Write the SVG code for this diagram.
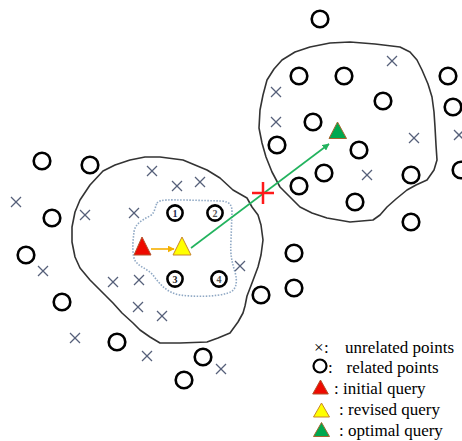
<svg xmlns="http://www.w3.org/2000/svg" width="462" height="441" viewBox="0 0 462 441">
<defs>
<style>
.bd{fill:none;stroke:#333;stroke-width:1.6;stroke-linejoin:round}
.dot{fill:none;stroke:#8fa8c4;stroke-width:1.6;stroke-dasharray:1.5 1.5}
.c{fill:none;stroke:#000;stroke-width:2.6}
.x{stroke:#56607a;stroke-width:1.3}
.t{font-family:"Liberation Serif","Times New Roman",serif;font-size:17px;fill:#000}
.n{font-family:"Liberation Serif","Times New Roman",serif;font-size:10px;font-weight:bold;text-anchor:middle}
</style>
<marker id="ag" viewBox="0 0 10 10" refX="9" refY="5" markerWidth="7" markerHeight="7" orient="auto" markerUnits="userSpaceOnUse"><path d="M0,0 L10,5 L0,10 Z" fill="#22b35e"/></marker>
<marker id="ao" viewBox="0 0 10 10" refX="9" refY="5" markerWidth="7" markerHeight="7" orient="auto" markerUnits="userSpaceOnUse"><path d="M0,0 L10,5 L0,10 Z" fill="#f5b000"/></marker>
<g id="xm"><line class="x" x1="-5" y1="-5" x2="5" y2="5"/><line class="x" x1="-5" y1="5" x2="5" y2="-5"/></g>
</defs>
<rect width="462" height="441" fill="#fff"/>

<g id="regions">
<path id="region-left" class="bd" d="M103,171 L115,165 L130,160 L145,157 L160,157 L183,160 L207,170 L220,178 L233,190 L247,198 L252,207 L258,215 L261,225 L263,240 L261,255 L258,267 L252,283 L247,296 L245,306 L243,313 L238,322 L230,333 L218,338 L207,342 L180,343 L160,343 L150,337 L140,330 L133,323 L122,313 L113,303 L100,290 L90,280 L80,268 L75,257 L72,242 L72,227 L75,212 L80,200 L90,185 Z"/>
<path id="region-right" class="bd" d="M310,47 L330,43 L350,42 L375,44 L400,47 L410,52 L417,60 L422,70 L428,84 L432,97 L434,112 L435,127 L436,145 L437,160 L434,170 L427,180 L416,185 L407,190 L396,199 L387,207 L380,215 L373,220 L350,222 L327,218 L312,213 L300,207 L290,197 L280,187 L272,172 L266,157 L262,143 L259,128 L260,110 L263,95 L267,80 L274,69 L282,60 L295,52 Z"/>
<path id="region-inner" class="dot" d="M157,203 C160,199 170,200 185,200 L222,201 C230,202 232,205 232,212 L231,240 C230,255 232,262 235,272 C238,283 236,291 228,293 C215,297 195,297 180,295 C168,293 160,285 153,275 C147,268 136,266 134,258 C132,250 133,240 134,232 C135,224 142,220 150,216 C155,213 155,207 157,203 Z"/>
</g>

<g id="unrelated">
<use href="#xm" x="16" y="202"/><use href="#xm" x="85" y="215"/><use href="#xm" x="134" y="213"/>
<use href="#xm" x="152" y="171"/><use href="#xm" x="177" y="186"/><use href="#xm" x="200" y="182"/>
<use href="#xm" x="43" y="271"/><use href="#xm" x="113" y="282"/><use href="#xm" x="139" y="280"/>
<use href="#xm" x="138" y="307"/><use href="#xm" x="162" y="316"/><use href="#xm" x="75" y="338"/>
<use href="#xm" x="147" y="356"/><use href="#xm" x="221" y="369"/><use href="#xm" x="240" y="266"/>
<use href="#xm" x="392" y="61"/><use href="#xm" x="276" y="92"/><use href="#xm" x="276" y="122"/>
<use href="#xm" x="414" y="138"/><use href="#xm" x="367" y="175"/><use href="#xm" x="459" y="135"/>
</g>

<g id="related">
<circle class="c" cx="42" cy="161" r="8.3"/><circle class="c" cx="90" cy="165" r="8.3"/>
<circle class="c" cx="52" cy="218" r="8.3"/><circle class="c" cx="26" cy="255" r="8.3"/>
<circle class="c" cx="62" cy="302" r="8.3"/><circle class="c" cx="117" cy="342" r="8.3"/>
<circle class="c" cx="203" cy="357" r="8.3"/><circle class="c" cx="184" cy="380" r="8.3"/>
<circle class="c" cx="294" cy="253" r="8.3"/><circle class="c" cx="294" cy="288" r="8.3"/>
<circle class="c" cx="261" cy="295" r="8.3"/>
<circle class="c" cx="320" cy="19" r="8.3"/><circle class="c" cx="299" cy="76" r="8.3"/>
<circle class="c" cx="344" cy="76" r="8.3"/><circle class="c" cx="448" cy="76" r="8.3"/>
<circle class="c" cx="383" cy="101" r="8.3"/><circle class="c" cx="453" cy="107" r="8.3"/>
<circle class="c" cx="313" cy="122" r="8.3"/><circle class="c" cx="277" cy="145" r="8.3"/>
<circle class="c" cx="359" cy="150" r="8.3"/><circle class="c" cx="324" cy="173" r="8.3"/>
<circle class="c" cx="299" cy="186" r="8.3"/><circle class="c" cx="355" cy="202" r="8.3"/>
<circle class="c" cx="411" cy="175" r="8.3"/><circle class="c" cx="411" cy="222" r="8.3"/>
<circle class="c" cx="461" cy="170" r="8.3"/>
</g>

<g id="numbered">
<g id="p1"><circle class="c" cx="175" cy="213" r="7.6"/><text class="n" x="175" y="216.5" fill="#1a2a50">1</text></g>
<g id="p2"><circle class="c" cx="215" cy="213" r="7.6"/><text class="n" x="215" y="216.5" fill="#555">2</text></g>
<g id="p3"><circle class="c" cx="175" cy="279" r="7.6"/><text class="n" x="175" y="282.5" fill="#222">3</text></g>
<g id="p4"><circle class="c" cx="219" cy="279" r="7.6"/><text class="n" x="219" y="282.5" fill="#555">4</text></g>
</g>

<g id="connectors">
<line x1="191" y1="248" x2="329" y2="144" stroke="#22b35e" stroke-width="1.6" marker-end="url(#ag)"/>
<line x1="151" y1="249" x2="174" y2="249" stroke="#f5b000" stroke-width="1.6" marker-end="url(#ao)"/>
</g>

<g id="cut">
<line x1="252" y1="193" x2="274" y2="193" stroke="#ff1a1a" stroke-width="2.5"/>
<line x1="263" y1="182" x2="263" y2="204" stroke="#ff1a1a" stroke-width="2.5"/>
</g>

<g id="queries">
<polygon id="initial" points="142,237 134,255 151,255" fill="#ee0a00" stroke="#b4502a" stroke-width="1"/>
<polygon id="revised" points="182,237 173,255 191,255" fill="#ffff00" stroke="#c8862a" stroke-width="1"/>
<polygon id="optimal" points="337.5,122 329,138.5 346.5,138.5" fill="#00a84f" stroke="#a5662e" stroke-width="1"/>
</g>

<g id="legend">
<text class="t" x="314" y="353" fill="#555">×</text><text class="t" x="324" y="353">:</text>
<text class="t" x="345" y="353">unrelated points</text>
<circle cx="320" cy="366" r="6.5" fill="none" stroke="#000" stroke-width="2.2"/>
<text class="t" x="328" y="373">:</text><text class="t" x="346.5" y="373">related points</text>
<polygon points="320.5,380 312.7,394 328.3,394" fill="#ee0a00" stroke="#b4502a" stroke-width="1"/>
<text class="t" x="334" y="394">: initial query</text>
<polygon points="321.5,403 313.5,417 329.5,417" fill="#ffff00" stroke="#c8862a" stroke-width="1"/>
<text class="t" x="339" y="415">: revised query</text>
<polygon points="321.5,422.5 313.5,436.5 329.5,436.5" fill="#00a84f" stroke="#a5662e" stroke-width="1"/>
<text class="t" x="339" y="436">: optimal query</text>
</g>
</svg>
